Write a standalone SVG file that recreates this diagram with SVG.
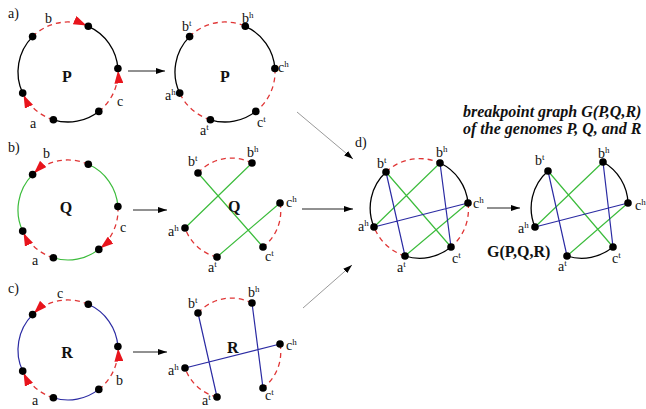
<svg xmlns="http://www.w3.org/2000/svg" width="646" height="409" viewBox="0 0 646 409">
<defs>
<marker id="ra" viewBox="0 0 15 9" refX="15" refY="4.5" markerWidth="15" markerHeight="9" markerUnits="userSpaceOnUse" orient="auto"><path d="M0,0 L13,4.5 L0,9 z" fill="#e8141c"/></marker>
<marker id="ah" viewBox="0 0 9 6" refX="9" refY="3" markerWidth="9" markerHeight="6" markerUnits="userSpaceOnUse" orient="auto"><path d="M0,0 L9,3 L0,6 z" fill="#000"/></marker>
</defs>
<style>
text{font-family:"Liberation Serif","Times New Roman",serif;fill:#111}
.l{font-size:14px}
.s{font-size:9px}
.big{font-size:16px;font-weight:bold}
.title{font-size:16px;font-weight:bold;font-style:italic}
.blk{fill:none;stroke:#000;stroke-width:1.3}
.red{fill:none;stroke:#e03535;stroke-width:1.3;stroke-dasharray:5 4}
.arw{marker-end:url(#ra)}
.grn{fill:none;stroke:#3cbc3c;stroke-width:1.2}
.blu{fill:none;stroke:#2b2ba3;stroke-width:1.2}
.dot{fill:#000}
.conn{fill:none;stroke:#222;stroke-width:1;marker-end:url(#ah)}
.gray{stroke:#9a9a9a}
</style>

<g id="panel-a-genome">
<path class="blk" d="M22.7,93.1 A50,50 0 0 1 32.6,36.6 M88.3,26.3 A50,50 0 0 1 117.9,68.5 M98.8,111.4 A50,50 0 0 1 53.4,119.8"/>
<path class="red arw" d="M32.6,36.6 A50,50 0 0 1 88.3,26.3"/>
<path class="red arw" d="M98.8,111.4 A50,50 0 0 0 117.9,68.5"/>
<path class="red arw" d="M53.4,119.8 A50,50 0 0 1 22.7,93.1"/>
<g class="dot"><circle cx="32.6" cy="36.6" r="3.8"/><circle cx="88.3" cy="26.3" r="3.8"/><circle cx="117.9" cy="68.5" r="3.8"/><circle cx="98.8" cy="111.4" r="3.8"/><circle cx="53.4" cy="119.8" r="3.8"/><circle cx="22.7" cy="93.1" r="3.8"/></g>
<text class="l" x="8" y="18">a)</text>
<text class="l" x="45" y="23">b</text>
<text class="l" x="117" y="106">c</text>
<text class="l" x="30" y="128">a</text>
<text class="big" x="67" y="82" text-anchor="middle">P</text>
</g>

<g id="panel-a-graph">
<path class="blk" d="M179.7,93.1 A50,50 0 0 1 189.6,36.6 M245.3,26.3 A50,50 0 0 1 274.9,68.5 M255.8,111.4 A50,50 0 0 1 210.4,119.8"/>
<path class="red" d="M189.6,36.6 A50,50 0 0 1 245.3,26.3 M274.9,68.5 A50,50 0 0 1 255.8,111.4 M210.4,119.8 A50,50 0 0 1 179.7,93.1"/>
<g class="dot"><circle cx="189.6" cy="36.6" r="3.8"/><circle cx="245.3" cy="26.3" r="3.8"/><circle cx="274.9" cy="68.5" r="3.8"/><circle cx="255.8" cy="111.4" r="3.8"/><circle cx="210.4" cy="119.8" r="3.8"/><circle cx="179.7" cy="93.1" r="3.8"/></g>
<text class="l" x="182" y="31">b<tspan class="s" dy="-5">t</tspan></text>
<text class="l" x="242" y="23">b<tspan class="s" dy="-5">h</tspan></text>
<text class="l" x="278" y="72">c<tspan class="s" dy="-5">h</tspan></text>
<text class="l" x="257" y="127">c<tspan class="s" dy="-5">t</tspan></text>
<text class="l" x="200" y="135">a<tspan class="s" dy="-5">t</tspan></text>
<text class="l" x="165" y="100">a<tspan class="s" dy="-5">h</tspan></text>
<text class="big" x="225" y="82" text-anchor="middle">P</text>
</g>

<g id="panel-b-genome">
<path class="grn" d="M22.7,231.1 A50,50 0 0 1 32.6,174.6 M88.3,164.3 A50,50 0 0 1 117.9,206.5 M98.8,249.4 A50,50 0 0 1 53.4,257.8"/>
<path class="red arw" d="M88.3,164.3 A50,50 0 0 0 32.6,174.6"/>
<path class="red arw" d="M117.9,206.5 A50,50 0 0 1 98.8,249.4"/>
<path class="red arw" d="M53.4,257.8 A50,50 0 0 1 22.7,231.1"/>
<g class="dot"><circle cx="32.6" cy="174.6" r="3.8"/><circle cx="88.3" cy="164.3" r="3.8"/><circle cx="117.9" cy="206.5" r="3.8"/><circle cx="98.8" cy="249.4" r="3.8"/><circle cx="53.4" cy="257.8" r="3.8"/><circle cx="22.7" cy="231.1" r="3.8"/></g>
<text class="l" x="8" y="152">b)</text>
<text class="l" x="43" y="158">b</text>
<text class="l" x="120" y="232">c</text>
<text class="l" x="32" y="265">a</text>
<text class="big" x="66" y="213" text-anchor="middle">Q</text>
</g>

<g id="panel-b-graph">
<path class="red" d="M198,173 A45,45 0 0 1 252,163 M280,203 A45,45 0 0 1 263,247 M217,257 A45,45 0 0 1 185,228"/>
<path class="grn" d="M198,173 L263,247 M252,163 L185,228 M280,203 L217,257"/>
<g class="dot"><circle cx="198" cy="173" r="3.8"/><circle cx="252" cy="163" r="3.8"/><circle cx="280" cy="203" r="3.8"/><circle cx="263" cy="247" r="3.8"/><circle cx="217" cy="257" r="3.8"/><circle cx="185" cy="228" r="3.8"/></g>
<text class="l" x="188" y="166">b<tspan class="s" dy="-5">t</tspan></text>
<text class="l" x="247" y="157">b<tspan class="s" dy="-5">h</tspan></text>
<text class="l" x="286" y="207">c<tspan class="s" dy="-5">h</tspan></text>
<text class="l" x="265" y="261">c<tspan class="s" dy="-5">t</tspan></text>
<text class="l" x="168" y="236">a<tspan class="s" dy="-5">h</tspan></text>
<text class="l" x="208" y="272">a<tspan class="s" dy="-5">t</tspan></text>
<text class="big" x="228" y="212">Q</text>
</g>

<g id="panel-c-genome">
<path class="blu" d="M22.7,371.1 A50,50 0 0 1 32.6,314.6 M88.3,304.3 A50,50 0 0 1 117.9,346.5 M98.8,389.4 A50,50 0 0 1 53.4,397.8"/>
<path class="red arw" d="M88.3,304.3 A50,50 0 0 0 32.6,314.6"/>
<path class="red arw" d="M98.8,389.4 A50,50 0 0 0 117.9,346.5"/>
<path class="red arw" d="M53.4,397.8 A50,50 0 0 1 22.7,371.1"/>
<g class="dot"><circle cx="32.6" cy="314.6" r="3.8"/><circle cx="88.3" cy="304.3" r="3.8"/><circle cx="117.9" cy="346.5" r="3.8"/><circle cx="98.8" cy="389.4" r="3.8"/><circle cx="53.4" cy="397.8" r="3.8"/><circle cx="22.7" cy="371.1" r="3.8"/></g>
<text class="l" x="8" y="293">c)</text>
<text class="l" x="57" y="298">c</text>
<text class="l" x="116" y="385">b</text>
<text class="l" x="32" y="405">a</text>
<text class="big" x="67" y="358" text-anchor="middle">R</text>
</g>

<g id="panel-c-graph">
<path class="red" d="M198,313 A45,45 0 0 1 252,303 M280,344 A45,45 0 0 1 263,388 M217,397 A45,45 0 0 1 185,368"/>
<path class="blu" d="M198,313 L217,397 M252,303 L263,388 M185,368 L280,344"/>
<g class="dot"><circle cx="198" cy="313" r="3.8"/><circle cx="252" cy="303" r="3.8"/><circle cx="280" cy="344" r="3.8"/><circle cx="263" cy="388" r="3.8"/><circle cx="217" cy="397" r="3.8"/><circle cx="185" cy="368" r="3.8"/></g>
<text class="l" x="188" y="308">b<tspan class="s" dy="-5">t</tspan></text>
<text class="l" x="248" y="297">b<tspan class="s" dy="-5">h</tspan></text>
<text class="l" x="286" y="350">c<tspan class="s" dy="-5">h</tspan></text>
<text class="l" x="265" y="400">c<tspan class="s" dy="-5">t</tspan></text>
<text class="l" x="168" y="375">a<tspan class="s" dy="-5">h</tspan></text>
<text class="l" x="202" y="405">a<tspan class="s" dy="-5">t</tspan></text>
<text class="big" x="227" y="353">R</text>
</g>

<g id="panel-d">
<path class="blk" d="M374,227 A49,49 0 0 1 386,172 M440,163 A49,49 0 0 1 468,203 M451,247 A49,49 0 0 1 405,256"/>
<path class="red" d="M386,172 A49,49 0 0 1 440,163 M468,203 A49,49 0 0 1 451,247 M405,256 A49,49 0 0 1 374,227"/>
<path class="grn" d="M386,172 L451,247 M440,163 L374,227 M468,203 L405,256"/>
<path class="blu" d="M386,172 L405,256 M440,163 L451,247 M374,227 L468,203"/>
<g class="dot"><circle cx="386" cy="172" r="3.8"/><circle cx="440" cy="163" r="3.8"/><circle cx="468" cy="203" r="3.8"/><circle cx="451" cy="247" r="3.8"/><circle cx="405" cy="256" r="3.8"/><circle cx="374" cy="227" r="3.8"/></g>
<text class="l" x="355" y="147">d)</text>
<text class="l" x="377" y="168">b<tspan class="s" dy="-5">t</tspan></text>
<text class="l" x="436" y="157">b<tspan class="s" dy="-5">h</tspan></text>
<text class="l" x="473" y="208">c<tspan class="s" dy="-5">h</tspan></text>
<text class="l" x="452" y="263">c<tspan class="s" dy="-5">t</tspan></text>
<text class="l" x="397" y="272">a<tspan class="s" dy="-5">t</tspan></text>
<text class="l" x="358" y="231">a<tspan class="s" dy="-5">h</tspan></text>
</g>

<g id="panel-G">
<path class="blk" d="M535,227 A49,49 0 0 1 548,171 M603,162 A49,49 0 0 1 628,203 M613,247 A49,49 0 0 1 567,256"/>
<path class="grn" d="M548,171 L613,247 M603,162 L535,227 M628,203 L567,256"/>
<path class="blu" d="M548,171 L567,256 M603,162 L613,247 M535,227 L628,203"/>
<g class="dot"><circle cx="548" cy="171" r="3.8"/><circle cx="603" cy="162" r="3.8"/><circle cx="628" cy="203" r="3.8"/><circle cx="613" cy="247" r="3.8"/><circle cx="567" cy="256" r="3.8"/><circle cx="535" cy="227" r="3.8"/></g>
<text class="l" x="535" y="165">b<tspan class="s" dy="-5">t</tspan></text>
<text class="l" x="598" y="158">b<tspan class="s" dy="-5">h</tspan></text>
<text class="l" x="635" y="210">c<tspan class="s" dy="-5">h</tspan></text>
<text class="l" x="612" y="263">c<tspan class="s" dy="-5">t</tspan></text>
<text class="l" x="558" y="271">a<tspan class="s" dy="-5">t</tspan></text>
<text class="l" x="518" y="233">a<tspan class="s" dy="-5">h</tspan></text>
<text class="big" x="487" y="257">G(P,Q,R)</text>
</g>

<g id="title">
<text class="title" x="463" y="117">breakpoint graph G(P,Q,R)</text>
<text class="title" x="463" y="134">of the genomes P, Q, and R</text>
</g>

<g id="connectors">
<line class="conn" x1="128" y1="71" x2="165" y2="71"/>
<line class="conn" x1="133" y1="210" x2="167" y2="210"/>
<line class="conn" x1="133" y1="352" x2="167" y2="352"/>
<line class="conn gray" x1="297" y1="112" x2="353" y2="159"/>
<line class="conn" x1="302" y1="209" x2="353" y2="209"/>
<line class="conn gray" x1="303" y1="308" x2="352" y2="265"/>
<line class="conn" x1="487" y1="208" x2="520" y2="208"/>
</g>
</svg>
